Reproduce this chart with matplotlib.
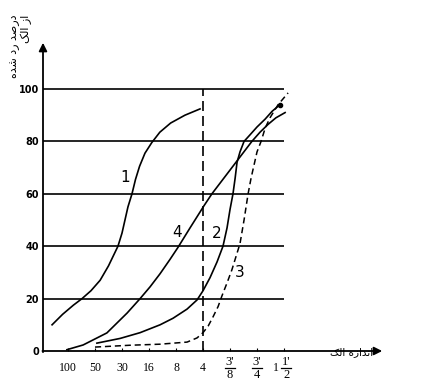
import matplotlib.pyplot as plt
from matplotlib.transforms import offset_copy

# sieve positions (index of tick), percent passing
sieve_labels = ['100', '50', '30', '16', '8', '4', "3'/8", "3'/4", "1 1'/2"]
percent_ticks = [0, 20, 40, 60, 80, 100]

curve1_x = [-0.59, -0.2, 0.2, 0.52, 0.85, 1.19, 1.5, 1.85, 2.0, 2.11,
            2.22, 2.37, 2.5, 2.65, 2.85, 3.1, 3.4, 3.8, 4.33, 4.89]
curve1_y = [10, 14, 17.5, 20, 23, 27, 32.5, 40, 45, 50,
            55, 60, 65.5, 70.5, 75.5, 79.5, 83.5, 87, 90, 92.4]

curve2_x = [1.07, 1.93, 2.67, 3.41, 3.89, 4.41, 4.78, 5.0, 5.26, 5.52, 5.74, 5.89,
            6.0, 6.11, 6.19, 6.26, 6.37, 6.52, 6.74, 7.0, 7.30, 7.56, 7.85]
curve2_y = [3, 4.8, 7, 10, 12.5, 16, 19.5, 23, 28, 34, 40, 47,
            54, 60, 66, 72, 76, 80, 82.5, 85.5, 88.5, 91.5, 94]

curve3_x = [1.0, 2.30, 3.41, 4.41, 4.78, 5.0, 5.19, 5.37, 5.56, 5.70, 5.89, 6.07, 6.22,
            6.37, 6.52, 6.67, 6.78, 6.89, 7.0, 7.15, 7.30, 7.48, 7.78, 8.15]
curve3_y = [1.5, 2.2, 2.6, 3.4, 5, 7, 9.5, 13, 17, 21, 26, 31, 36,
            41, 50, 60, 66, 71, 76, 80, 85, 89, 94, 98.5]

curve4_x = [-0.04, 0.56, 1.44, 2.19, 2.67, 3.04, 3.41, 3.78, 4.07, 4.52, 5.04,
            5.33, 5.70, 6.07, 6.44, 6.81, 7.11, 7.41, 7.70, 8.04]
curve4_y = [0.5, 2.3, 6.9, 14.5, 20, 24.5, 29.5, 35, 39.5, 47, 55.5,
            60, 65, 70, 75, 80, 83.5, 86.5, 89, 91]

# Persian labels, written in presentation forms in visual order
xlabel_fa = '\uFB8F\uFEDF\uFE8D \uFEE9\uFEAF\uFE8D\uFEAA\uFEE7\uFE8D'
ylabel_fa = ('\uFEE9\uFEAA\uFEB7 \uFEA9\uFEAD \uFEAA\uFEBB\uFEAD\uFEA9\n'
             '\uFB8F\uFEDF\uFE8D \uFEAF\uFE8D')

fig = plt.figure(figsize=(4.23, 3.90), dpi=100)
ax = fig.add_axes([43 / 423, 39 / 390, 342 / 423, 311 / 390])
ax.set_xlim(-0.926, 11.74)
ax.set_ylim(0, 118.7)
for s in ax.spines.values():
    s.set_visible(False)

# grid
for y in percent_ticks[1:]:
    ax.plot([-0.926, 8.0], [y, y], color='black', lw=1.2, solid_capstyle='butt')
ax.plot([5, 5], [0, 100], color='black', lw=1.2, dashes=(6, 3))

# axes with arrows
ax.annotate('', xy=(11.74, 0), xytext=(-1.05, 0), annotation_clip=False,
            arrowprops=dict(arrowstyle='-|>', color='black', lw=1.3, mutation_scale=12))
ax.annotate('', xy=(-0.926, 118.7), xytext=(-0.926, -1.5), annotation_clip=False,
            arrowprops=dict(arrowstyle='-|>', color='black', lw=1.3, mutation_scale=12))

ax.plot(curve1_x, curve1_y, color='black', lw=1.2)
ax.plot(curve2_x, curve2_y, color='black', lw=1.2)
ax.plot(curve3_x, curve3_y, color='black', lw=1.1, dashes=(4, 2.5))
ax.plot(curve4_x, curve4_y, color='black', lw=1.2)
ax.plot(curve2_x[-1], curve2_y[-1], 'o', color='black', ms=3)

ax.text(2.11, 66.4, '1', fontsize=11, ha='center', va='center')
ax.text(5.52, 45, '2', fontsize=11, ha='center', va='center')
ax.text(6.37, 30, '3', fontsize=11, ha='center', va='center')
ax.text(4.04, 45.4, '4', fontsize=11, ha='center', va='center')

# x ticks; fractions are stacked by hand
ax.set_xticks(range(len(sieve_labels)))
ax.set_xticklabels([s if '/' not in s else '' for s in sieve_labels],
                   fontsize=8.5, family='Liberation Serif')
ax.tick_params(axis='x', direction='in', length=2.5, width=0.8, pad=8)
bar_tr = offset_copy(ax.transData, fig=fig, x=0, y=-12.5, units='points')
for i, s in enumerate(sieve_labels):
    if '/' not in s:
        continue
    whole = ''
    if ' ' in s:
        whole, s = s.split(' ')
    num, den = s.split('/')
    dx = 0
    if whole:
        dx = 1.5
        ax.annotate(whole, (i, 0), xytext=(-6, -12.3), textcoords='offset points',
                    ha='center', va='center', fontsize=8.5, family='Liberation Serif',
                    annotation_clip=False)
    ax.annotate(num, (i, 0), xytext=(dx, -8.2), textcoords='offset points',
                ha='center', va='center', fontsize=9, family='Liberation Serif',
                annotation_clip=False)
    ax.annotate(den, (i, 0), xytext=(dx, -17.2), textcoords='offset points',
                ha='center', va='center', fontsize=9, family='Liberation Serif',
                annotation_clip=False)
    ax.plot([i + dx / 19.4 - 0.19, i + dx / 19.4 + 0.19], [0, 0], color='black', lw=0.9,
            transform=bar_tr, clip_on=False)

ax.set_yticks(percent_ticks)
ax.set_yticklabels([str(v) for v in percent_ticks], fontsize=7, fontweight='bold')
ax.tick_params(axis='y', length=0, pad=3)

fig.text(352 / 423, 1 - 352 / 390, xlabel_fa, fontsize=7.5, family='DejaVu Sans',
         ha='center', va='center')
fig.text(21 / 423, 1 - 15 / 390, ylabel_fa, fontsize=8, family='DejaVu Sans',
         rotation=90, ha='center', va='top', multialignment='right', linespacing=1.1)

fig.savefig('out.png', dpi=100)
